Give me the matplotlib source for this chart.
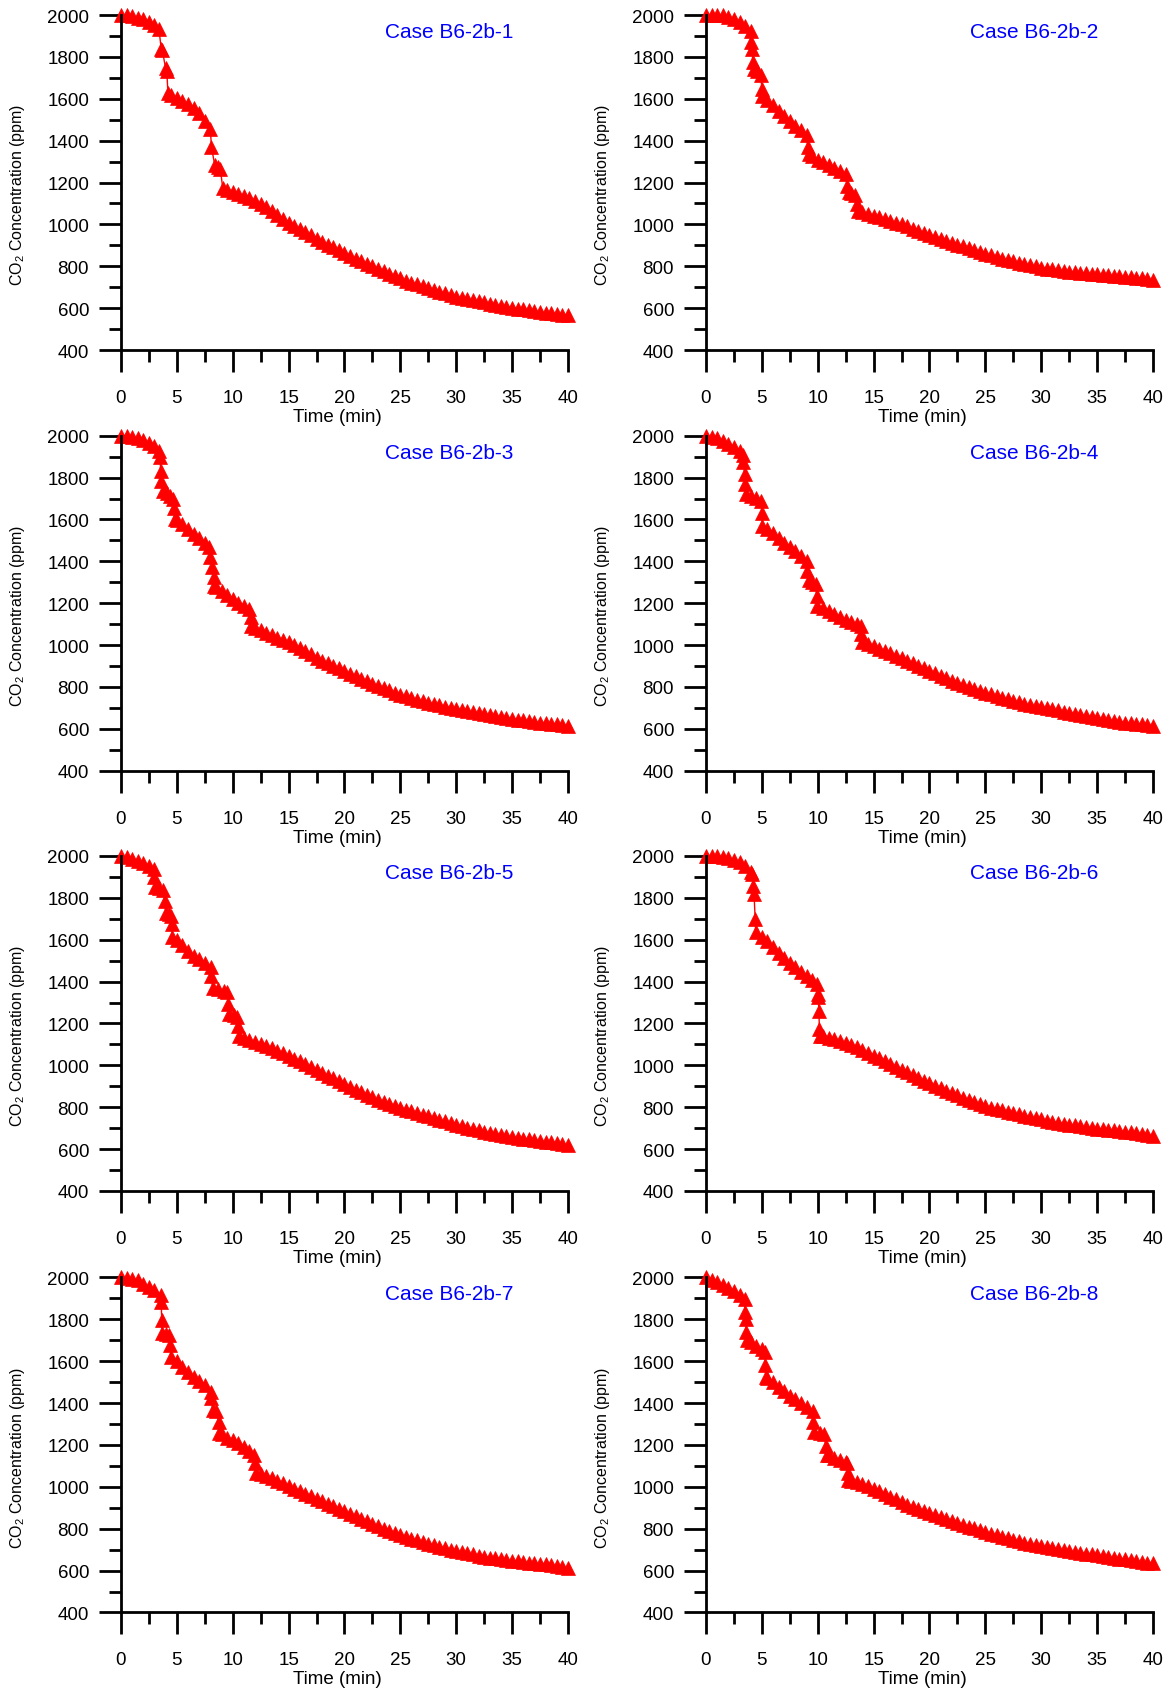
import numpy as np
import matplotlib
matplotlib.use("Agg")
import matplotlib.pyplot as plt
from matplotlib.ticker import MultipleLocator

plt.rcParams['font.family'] = ['Liberation Sans', 'DejaVu Sans']
plt.rcParams['mathtext.fontset'] = 'custom'
plt.rcParams['mathtext.rm'] = 'Liberation Sans'
plt.rcParams['mathtext.it'] = 'Liberation Sans:italic'
plt.rcParams['mathtext.bf'] = 'Liberation Sans:bold'


def grid(start):
    # regular 0.5 min sampling from start to the end of the test
    return list(np.arange(start, 40.01, 0.5))


case_names = ['Case B6-2b-1', 'Case B6-2b-2', 'Case B6-2b-3', 'Case B6-2b-4',
              'Case B6-2b-5', 'Case B6-2b-6', 'Case B6-2b-7', 'Case B6-2b-8']

# Case B6-2b-1
t1 = [0, 0.5, 1, 1.5, 2, 2.5, 3, 3.4, 3.6, 3.7, 4.0, 4.1, 4.2, 4.5, 5, 5.5, 6, 6.5, 7, 7.5, 8.0,
      8.1, 8.4, 8.7, 8.9, 9.1] + grid(9.5)
c1 = [2000, 1998, 1994, 1988, 1980, 1968, 1952, 1932, 1840, 1832, 1745, 1735, 1630, 1617, 1603,
      1590, 1574, 1556, 1530, 1495, 1455, 1368, 1282, 1272, 1264, 1176,
      1165, 1155, 1145, 1135, 1125, 1112, 1098, 1082, 1064, 1045, 1026, 1008, 992, 977, 962, 947,
      932, 918, 904, 890, 876, 862, 849, 836, 824, 812, 800, 788, 776, 764, 753, 742, 732, 722,
      713, 704, 695, 686, 678, 670, 662, 655, 649, 643, 637, 632, 627, 621, 616, 611, 606, 602,
      598, 594, 590, 586, 582, 578, 575, 572, 569, 566]

# Case B6-2b-2
t2 = [0, 0.5, 1, 1.5, 2, 2.5, 3, 3.5, 4.0, 4.05, 4.1, 4.2, 4.3, 4.6, 4.9, 5.0, 5.05, 5.5, 6, 6.5,
      7, 7.5, 8, 8.5, 9.0, 9.1, 9.2, 9.5, 10, 10.5, 11, 11.5, 12, 12.5, 12.6, 12.8, 13.0, 13.3,
      13.5, 13.6] + grid(14)
c2 = [2000, 2001, 2000, 1998, 1993, 1980, 1965, 1948, 1925, 1870, 1840, 1775, 1742, 1735, 1715,
      1648, 1615, 1592, 1568, 1542, 1516, 1495, 1472, 1450, 1425, 1369, 1336, 1325, 1310, 1296,
      1283, 1268, 1254, 1242, 1185, 1155, 1148, 1140, 1097, 1065,
      1058, 1050, 1042, 1033, 1025, 1016, 1008, 1000, 990, 980, 970, 960, 950, 941, 932, 922, 913,
      904, 895, 886, 877, 869, 860, 852, 845, 837, 830, 823, 816, 810, 804, 799, 794, 789, 785,
      781, 778, 775, 772, 769, 766, 763, 761, 758, 756, 754, 752, 750, 747, 745, 742, 739, 736]

# Case B6-2b-3
t3 = [0, 0.5, 1, 1.5, 2, 2.5, 3, 3.4, 3.5, 3.55, 3.6, 3.8, 4.1, 4.4, 4.7, 4.75, 4.8, 5, 5.5, 6,
      6.5, 7, 7.5, 7.9, 8.0, 8.15, 8.3, 8.35, 8.5, 9, 9.5, 10, 10.5, 11, 11.5, 11.6, 11.65] + grid(12)
c3 = [2000, 1998, 1995, 1989, 1980, 1966, 1950, 1928, 1896, 1832, 1784, 1737, 1725, 1712, 1700,
      1657, 1601, 1595, 1578, 1555, 1532, 1510, 1488, 1466, 1419, 1371, 1323, 1283, 1278, 1260,
      1238, 1218, 1202, 1187, 1172, 1132, 1092,
      1083, 1070, 1058, 1046, 1035, 1024, 1013, 999, 985, 970, 955, 940, 926, 913, 900, 888, 876,
      864, 852, 840, 828, 816, 805, 794, 783, 772, 763, 755, 747, 739, 732, 725, 718, 712, 706,
      700, 695, 690, 684, 679, 674, 669, 664, 660, 656, 652, 648, 644, 640, 636, 633, 630, 627,
      624, 621, 618, 615]

# Case B6-2b-4
t4 = [0, 0.5, 1, 1.5, 2, 2.5, 3, 3.3, 3.35, 3.45, 3.5, 3.55, 4.0, 4.5, 4.95, 5.0, 5.05, 5.5, 6,
      6.5, 7, 7.5, 8, 8.5, 9.0, 9.05, 9.2, 9.5, 9.8, 9.9, 9.95, 10.5, 11, 11.5, 12, 12.5, 13, 13.5,
      13.85, 13.9, 14.0] + grid(14.5)
c4 = [2000, 1995, 1987, 1976, 1962, 1946, 1925, 1910, 1872, 1816, 1768, 1721, 1712, 1703, 1689,
      1633, 1570, 1555, 1534, 1510, 1487, 1467, 1447, 1427, 1402, 1355, 1310, 1302, 1292, 1235,
      1188, 1178, 1162, 1147, 1132, 1122, 1110, 1100, 1092, 1052, 1013,
      1004, 994, 982, 970, 960, 950, 939, 926, 914, 902, 890, 877, 865, 853, 841, 830, 819, 809,
      800, 791, 782, 773, 764, 755, 747, 740, 733, 726, 719, 713, 708, 703, 698, 693, 688, 682,
      677, 672, 667, 662, 657, 652, 647, 643, 638, 634, 630, 627, 624, 621, 618, 615]

# Case B6-2b-5
t5 = [0, 0.5, 1, 1.5, 2, 2.5, 2.95, 3.0, 3.05, 3.4, 3.8, 3.9, 4.0, 4.3, 4.5, 4.55, 4.6, 5, 5.5,
      6, 6.5, 7, 7.5, 8.05, 8.1, 8.2, 8.7, 9.2, 9.5, 9.6, 9.7, 10.1, 10.4, 10.5, 10.55] + grid(11)
c5 = [2000, 1994, 1986, 1978, 1966, 1952, 1938, 1898, 1850, 1845, 1838, 1787, 1730, 1722, 1715,
      1675, 1612, 1597, 1575, 1546, 1524, 1508, 1490, 1468, 1428, 1370, 1365, 1355, 1348, 1293,
      1245, 1240, 1232, 1190, 1142,
      1133, 1123, 1113, 1102, 1092, 1081, 1070, 1058, 1045, 1032, 1019, 1005, 991, 978, 964, 951,
      938, 924, 910, 897, 884, 871, 858, 847, 836, 825, 815, 805, 796, 788, 780, 772, 764, 756,
      748, 740, 732, 724, 716, 709, 702, 696, 690, 684, 678, 673, 668, 663, 658, 654, 650, 646,
      643, 639, 636, 632, 629, 625, 620]

# Case B6-2b-6
t6 = [0, 0.5, 1, 1.5, 2, 2.5, 3, 3.5, 4.0, 4.15, 4.2, 4.3, 4.4, 4.45, 5, 5.5, 6, 6.5, 7, 7.5, 8,
      8.5, 9, 9.5, 9.95, 10.0, 10.05, 10.1, 10.15, 10.2] + grid(10.5)
c6 = [2000, 2001, 2000, 1997, 1990, 1982, 1970, 1950, 1925, 1914, 1858, 1819, 1699, 1636, 1615,
      1595, 1565, 1535, 1512, 1490, 1470, 1448, 1428, 1410, 1389, 1341, 1325, 1261, 1174, 1142,
      1140, 1132, 1124, 1115, 1108, 1098, 1086, 1073, 1060, 1047, 1034, 1020, 1007, 993, 980, 966,
      953, 940, 927, 914, 902, 890, 878, 867, 856, 845, 835, 825, 815, 805, 798, 792, 785, 778,
      772, 766, 760, 754, 748, 742, 736, 731, 726, 721, 717, 713, 709, 705, 701, 698, 695, 692,
      689, 686, 683, 680, 676, 672, 668, 664]

# Case B6-2b-7
t7 = [0, 0.5, 1, 1.5, 2, 2.5, 3, 3.55, 3.6, 3.65, 3.7, 4.0, 4.3, 4.4, 4.45, 5, 5.5, 6, 6.5, 7,
      7.5, 8.05, 8.1, 8.2, 8.5, 8.75, 8.8, 9, 9.5, 10, 10.5, 11, 11.5, 11.95, 12.0, 12.05] + grid(12.5)
c7 = [2000, 1998, 1995, 1988, 1970, 1955, 1940, 1914, 1883, 1796, 1735, 1730, 1725, 1677, 1621,
      1600, 1574, 1548, 1525, 1505, 1485, 1455, 1423, 1365, 1362, 1312, 1257, 1250, 1235, 1222,
      1208, 1190, 1172, 1154, 1114, 1067,
      1060, 1052, 1042, 1030, 1017, 1004, 991, 979, 967, 955, 943, 931, 919, 907, 895, 883, 871,
      859, 847, 835, 823, 811, 800, 790, 780, 770, 761, 752, 744, 736, 728, 721, 714, 707, 700,
      694, 688, 682, 677, 672, 667, 662, 658, 654, 650, 647, 644, 641, 638, 635, 632, 630, 627,
      623, 618, 612]

# Case B6-2b-8
t8 = [0, 0.5, 1, 1.5, 2, 2.5, 3, 3.45, 3.5, 3.55, 3.6, 3.65, 4.0, 4.5, 5.0, 5.25, 5.3, 5.35, 5.5,
      6, 6.5, 7, 7.5, 8, 8.5, 9, 9.55, 9.6, 9.7, 10.2, 10.6, 10.7, 10.8, 11, 11.5, 12, 12.5,
      12.65, 12.7, 12.75] + grid(13)
c8 = [2000, 1990, 1977, 1964, 1950, 1935, 1918, 1899, 1835, 1803, 1740, 1700, 1690, 1675, 1660,
      1645, 1582, 1526, 1520, 1500, 1478, 1456, 1436, 1418, 1400, 1382, 1360, 1312, 1262, 1258,
      1252, 1193, 1154, 1150, 1140, 1130, 1120, 1114, 1067, 1035,
      1030, 1022, 1013, 1003, 990, 978, 966, 953, 940, 927, 915, 904, 894, 884, 874, 864, 855, 846,
      837, 828, 819, 810, 801, 792, 784, 776, 769, 762, 754, 747, 740, 734, 728, 722, 717, 711,
      706, 701, 697, 693, 689, 685, 681, 677, 673, 669, 665, 661, 657, 653, 650, 646, 642, 638,
      634]

times = [t1, t2, t3, t4, t5, t6, t7, t8]
concs = [c1, c2, c3, c4, c5, c6, c7, c8]


def main():
    fig = plt.figure(figsize=(11.71, 16.90), dpi=100)
    lefts = [0.1033, 0.6029]
    bottoms = [0.7923, 0.5434, 0.2947, 0.0453]

    for i, name in enumerate(case_names):
        ax = fig.add_axes([lefts[i % 2], bottoms[i // 2], 0.3817, 0.1982])
        ax.plot(times[i], concs[i], color='red', lw=1, marker='^', ms=10,
                mec='red', mew=0.5, clip_on=False)

        ax.set_xlim(0, 40)
        ax.set_ylim(400, 2000)
        ax.xaxis.set_major_locator(MultipleLocator(5))
        ax.xaxis.set_minor_locator(MultipleLocator(2.5))
        ax.yaxis.set_major_locator(MultipleLocator(200))
        ax.yaxis.set_minor_locator(MultipleLocator(100))
        ax.tick_params(which='major', direction='out', length=16, width=2, labelsize=13.5)
        ax.tick_params(which='minor', direction='out', length=8.5, width=2)
        ax.tick_params(axis='x', which='major', pad=12)
        ax.tick_params(axis='y', which='major', pad=7)

        for side in ['top', 'right']:
            ax.spines[side].set_visible(False)
        for side in ['left', 'bottom']:
            ax.spines[side].set_linewidth(2)

        ax.set_xlabel('Time (min)', fontsize=13.5)
        ax.xaxis.set_label_coords(0.485, -0.173)
        ax.set_ylabel('CO$_2$ Concentration (ppm)', fontsize=11.5)
        ax.yaxis.set_label_coords(-0.21, 0.465)

        ax.text(0.735, 0.951, name, transform=ax.transAxes, color='blue',
                fontsize=15, ha='center', va='center')

    fig.savefig('out.png', dpi=100)
    plt.close(fig)


if __name__ == "__main__":
    main()
